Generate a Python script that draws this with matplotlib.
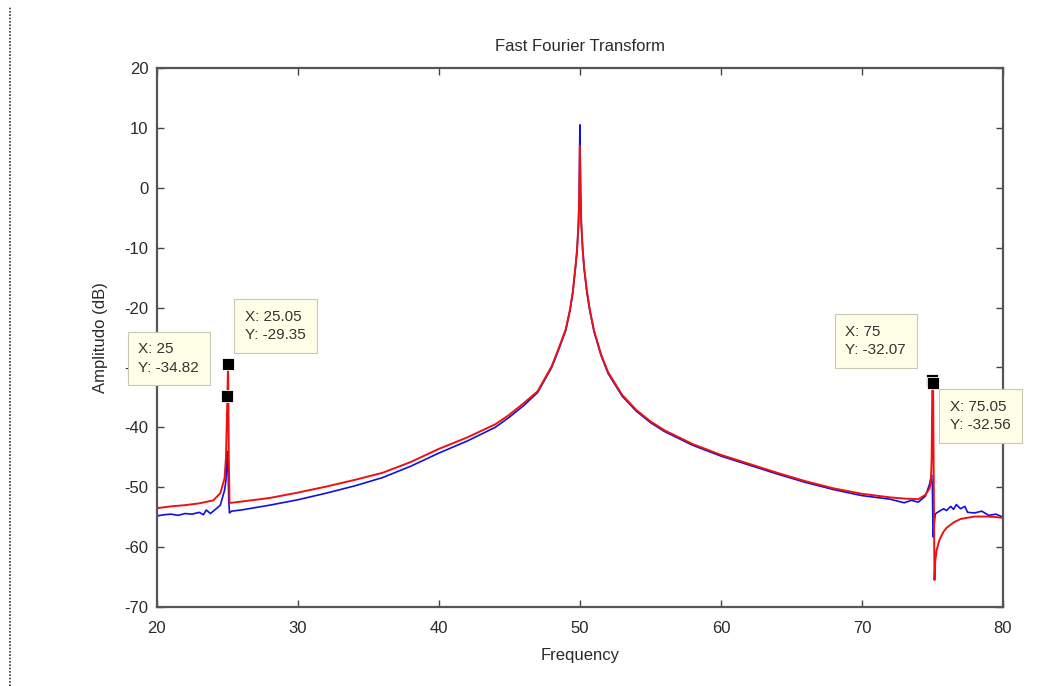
import numpy as np
import matplotlib.pyplot as plt
from matplotlib.lines import Line2D

plt.rcParams['font.family'] = ['Liberation Sans', 'DejaVu Sans']
plt.rcParams['axes.unicode_minus'] = False

# values
freq_blue = [20, 20.5, 21, 21.5, 22, 22.5, 23, 23.3, 23.5, 23.8, 24, 24.5, 24.8, 24.9, 24.95,
             25, 25.05, 25.1, 25.15, 25.3, 26, 28, 30, 32, 34, 36, 38, 40, 42, 44, 45, 46, 47,
             48, 48.5, 49, 49.3, 49.5, 49.7, 49.8, 49.9, 49.95, 50, 50.05, 50.1, 50.2, 50.3,
             50.5, 50.7, 51, 51.5, 52, 53, 54, 55, 56, 58, 60, 62, 64, 66, 68, 70, 72, 73, 73.5,
             74, 74.5, 74.8, 74.9, 74.95, 75, 75.05, 75.1, 75.2, 75.3, 75.5, 75.8, 76, 76.3,
             76.5, 76.7, 77, 77.3, 77.5, 78, 78.5, 79, 79.5, 80]
amp_blue = [-54.8, -54.6, -54.5, -54.7, -54.4, -54.5, -54.2, -54.6, -53.8, -54.4, -54.0, -53.0,
            -50.5, -48.8, -46.5, -44.0, -47.0, -52.5, -54.3, -54.0, -53.8, -53.0, -52.1, -51.0,
            -49.8, -48.4, -46.5, -44.3, -42.3, -40.0, -38.3, -36.4, -34.2, -30.0, -27.0, -23.8,
            -20.5, -17.5, -13.0, -10.5, -6.0, -2.0, 10.5, -1.0, -6.0, -10.5, -13.5, -17.5, -20.5,
            -24.0, -28.0, -31.0, -34.8, -37.3, -39.2, -40.7, -43.0, -44.8, -46.3, -47.8, -49.2,
            -50.4, -51.4, -52.0, -52.6, -52.2, -52.5, -51.5, -49.5, -48.3, -48.0, -50.0, -58.3,
            -57.0, -54.5, -54.3, -54.0, -53.6, -53.9, -53.2, -53.7, -52.9, -53.6, -53.2, -54.2,
            -54.3, -54.0, -54.7, -54.5, -55.0]

freq_red = [20, 21, 22, 23, 24, 24.5, 24.8, 24.9, 24.95, 25, 25.05, 25.1, 25.15, 25.3, 26, 28,
            30, 32, 34, 36, 38, 40, 42, 44, 45, 46, 47, 48, 48.5, 49, 49.3, 49.5, 49.7, 49.8,
            49.9, 49.95, 50, 50.05, 50.1, 50.2, 50.3, 50.5, 50.7, 51, 51.5, 52, 53, 54, 55, 56,
            58, 60, 62, 64, 66, 68, 70, 72, 73, 74, 74.5, 74.8, 74.9, 74.95, 75, 75.05, 75.1,
            75.15, 75.2, 75.3, 75.5, 75.8, 76, 76.5, 77, 78, 79, 80]
amp_red = [-53.5, -53.2, -53.0, -52.7, -52.2, -51.0, -48.5, -45.0, -40.0, -34.82, -29.35,
           -45.0, -52.6, -52.6, -52.4, -51.8, -50.9, -49.9, -48.8, -47.6, -45.8, -43.6, -41.7,
           -39.5, -37.9, -36.0, -34.0, -29.8, -26.8, -23.6, -20.3, -17.3, -12.8, -10.3, -6.0,
           -2.0, 7.0, -1.0, -6.0, -10.3, -13.3, -17.3, -20.3, -23.8, -27.8, -30.8, -34.6,
           -37.1, -39.0, -40.5, -42.8, -44.6, -46.1, -47.6, -49.0, -50.2, -51.1, -51.7, -51.9,
           -52.0, -51.3, -50.2, -49.0, -45.0, -32.07, -32.56, -50.0, -65.5, -62.5, -60.5,
           -58.8, -57.4, -56.8, -55.9, -55.3, -54.9, -54.9, -55.1]

tip_x = [25, 25.05, 75, 75.05]
tip_y = [-34.82, -29.35, -32.07, -32.56]

fig = plt.figure(figsize=(10.53, 6.86), dpi=100)
ax = fig.add_axes([0.149, 0.1152, 0.8034, 0.7857])

ax.plot(freq_blue, amp_blue, color='#1010e0', lw=1.2)
ax.plot(freq_red, amp_red, color='#ee1111', lw=1.4)
ax.plot(tip_x, tip_y, 's', color='black', ms=8.5, mec='white', mew=0.6, zorder=5,
        linestyle='none')

# data tips (offsets in pixels from the marker)
offsets = [(-89, 54), (17, 54), (-87, 55), (17, -17)]
for x, y, (dx, dy) in zip(tip_x, tip_y, offsets):
    ax.annotate('X: %g\nY: %.2f' % (x, y), xy=(x, y), xytext=(dx, dy),
                textcoords='offset pixels', ha='left', va='top', fontsize=11,
                color='#333333', linespacing=1.4, annotation_clip=False, zorder=6,
                bbox=dict(boxstyle='square,pad=0.7', fc='#ffffe8', ec='#c8c8b4', lw=0.8))

ax.set_xlim(20, 80)
ax.set_ylim(-70, 20)
ax.set_xticks(np.arange(20, 81, 10))
ax.set_yticks(np.arange(-70, 21, 10))
ax.tick_params(direction='in', length=5, width=1, top=True, right=True,
               labelsize=12, colors='#444444', labelcolor='#2a2a2a')
ax.tick_params(axis='x', pad=10)
ax.tick_params(axis='y', pad=6)
for s in ax.spines.values():
    s.set_color('#555555')
    s.set_linewidth(1.6)

ax.set_title('Fast Fourier Transform', fontsize=12, color='#2a2a2a', pad=12)
ax.set_xlabel('Frequency', fontsize=12, color='#2a2a2a', labelpad=9)
ax.set_ylabel('Amplitudo (dB)', fontsize=12, color='#2a2a2a', labelpad=12)

fig.add_artist(Line2D([0.0095, 0.0095], [0.0, 0.99], transform=fig.transFigure,
                      color='#333333', lw=1.2, linestyle=(0, (1, 1))))

fig.savefig('out.png', dpi=100)
